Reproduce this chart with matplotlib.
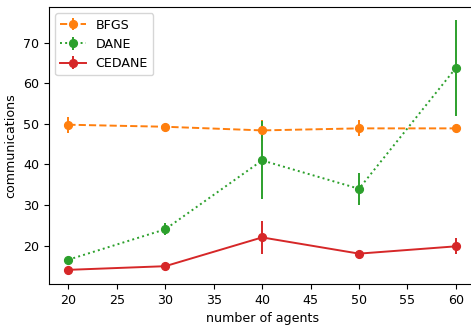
import numpy as np
from matplotlib import pyplot as plt

agents = [20, 30, 40, 50, 60]

bfgs = [49.8, 49.3, 48.4, 48.9, 48.9]
bfgs_err = [2.0, 0.8, 2.6, 2.0, 0.8]

dane = [16.5, 24.0, 41.0, 34.0, 63.8]
dane_err = [0.6, 1.5, 9.6, 4.0, 11.9]

cedane = [14.0, 14.9, 22.0, 18.0, 19.8]
cedane_err = [0.4, 0.5, 4.0, 0.5, 2.0]

plt.rcParams['font.size'] = 9.1
plt.rcParams['lines.linewidth'] = 1.4
plt.rcParams['lines.markersize'] = 5.6

fig = plt.figure(figsize=(4.71, 3.25), dpi=100)
ax = fig.add_axes([0.104, 0.126, 0.905, 0.852])

ax.errorbar(agents, bfgs, yerr=bfgs_err, fmt='o--', color='tab:orange', label='BFGS')
ax.errorbar(agents, dane, yerr=dane_err, fmt='o:', color='tab:green', label='DANE')
ax.errorbar(agents, cedane, yerr=cedane_err, fmt='o-', color='tab:red', label='CEDANE')

# right edge is cropped off in the original
ax.spines['right'].set_visible(False)

ax.set_xlabel('number of agents')
ax.set_ylabel('communications')
ax.legend(loc='upper left')

plt.savefig('out.png')
